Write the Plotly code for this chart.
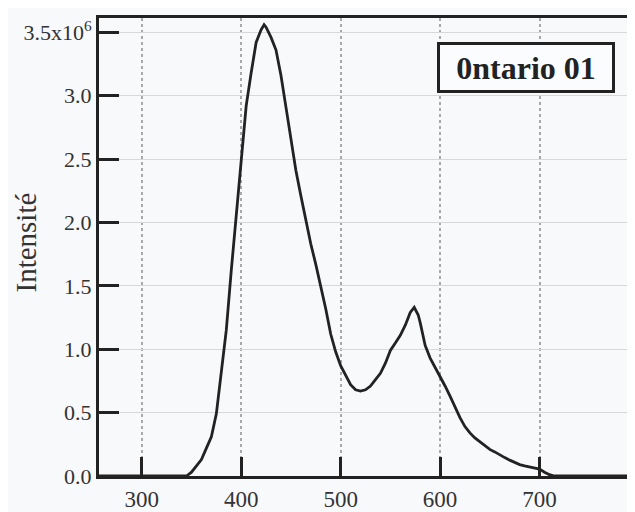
import plotly.graph_objects as go

# wavelength (nm) and intensity (x10^6)
wavelength = [250, 300, 345, 350, 355, 360, 365, 370, 375, 380, 385, 390, 395, 400,
              405, 410, 415, 420, 423, 425, 430, 435, 440, 445, 450, 455, 460, 465,
              470, 475, 480, 485, 490, 495, 500, 505, 510, 515, 520, 525, 530, 535,
              540, 545, 550, 555, 560, 565, 570, 574, 578, 580, 585, 590, 595, 600,
              605, 610, 615, 620, 625, 630, 635, 640, 645, 650, 655, 660, 665, 670,
              675, 680, 685, 690, 695, 700, 705, 710, 715, 760, 800]
intensity = [0, 0, 0, 0.03, 0.08, 0.13, 0.22, 0.31, 0.49, 0.80, 1.15, 1.62, 2.05, 2.50,
             2.92, 3.18, 3.42, 3.52, 3.56, 3.54, 3.46, 3.36, 3.16, 2.91, 2.65, 2.41, 2.21, 2.01,
             1.83, 1.67, 1.50, 1.32, 1.12, 0.98, 0.87, 0.79, 0.72, 0.68, 0.67, 0.68, 0.71, 0.76,
             0.81, 0.89, 0.99, 1.05, 1.11, 1.19, 1.29, 1.33, 1.27, 1.21, 1.03, 0.93, 0.86, 0.79,
             0.71, 0.63, 0.54, 0.46, 0.39, 0.34, 0.30, 0.27, 0.24, 0.21, 0.19, 0.165, 0.145, 0.125,
             0.105, 0.09, 0.08, 0.07, 0.062, 0.055, 0.03, 0.01, 0, 0, 0]

x_ticks = [300, 400, 500, 600, 700]
y_ticks = [0, 0.5, 1.0, 1.5, 2.0, 2.5, 3.0, 3.5]
y_ticktext = ["0.0", "0.5", "1.0", "1.5", "2.0", "2.5", "3.0", "3.5x10<sup>6</sup>"]

serif = "Liberation Serif"
bg = "#f8f9fb"

fig = go.Figure()
fig.add_trace(go.Scatter(x=wavelength, y=intensity, mode="lines",
                         line=dict(color="#222222", width=2.8), showlegend=False))

# page body has an 8px margin, so the figure is a little smaller and shifted
fig.update_layout(
    width=627, height=504,
    margin=dict(l=91, r=0, t=10, b=33),
    paper_bgcolor=bg, plot_bgcolor=bg,
    font=dict(family=serif, color="#333333"),
    xaxis=dict(range=[257, 796], tickvals=x_ticks, ticks="inside", ticklen=19,
               tickwidth=3, tickcolor="#222222", tickfont=dict(size=23),
               showline=True, linewidth=3, linecolor="#222222", mirror=True,
               showgrid=True, gridcolor="#a8a8a8", griddash="dot", gridwidth=1.5,
               zeroline=False),
    yaxis=dict(range=[0, 3.613], tickvals=y_ticks, ticktext=y_ticktext,
               ticks="inside", ticklen=20, tickwidth=2.5, tickcolor="#222222",
               tickfont=dict(size=22), showline=True, linewidth=3,
               linecolor="#222222", mirror=False,
               showgrid=True, gridcolor="#d6d8da", gridwidth=1.2, zeroline=False),
    annotations=[
        dict(text="Intensité", xref="paper", yref="paper", x=-0.136, y=0.51,
             xanchor="center", yanchor="middle",
             textangle=-90, showarrow=False, font=dict(family=serif, size=29, color="#333333")),
        dict(text="<b>0ntario 01</b>", xref="paper", yref="paper", x=0.797, y=0.893,
             xanchor="center", yanchor="middle",
             showarrow=False, width=172, height=45, borderpad=0, borderwidth=3,
             bordercolor="#222222", bgcolor="#fbfcfd",
             font=dict(family=serif, size=32, color="#222222")),
    ],
)

fig.write_html("out.html")
